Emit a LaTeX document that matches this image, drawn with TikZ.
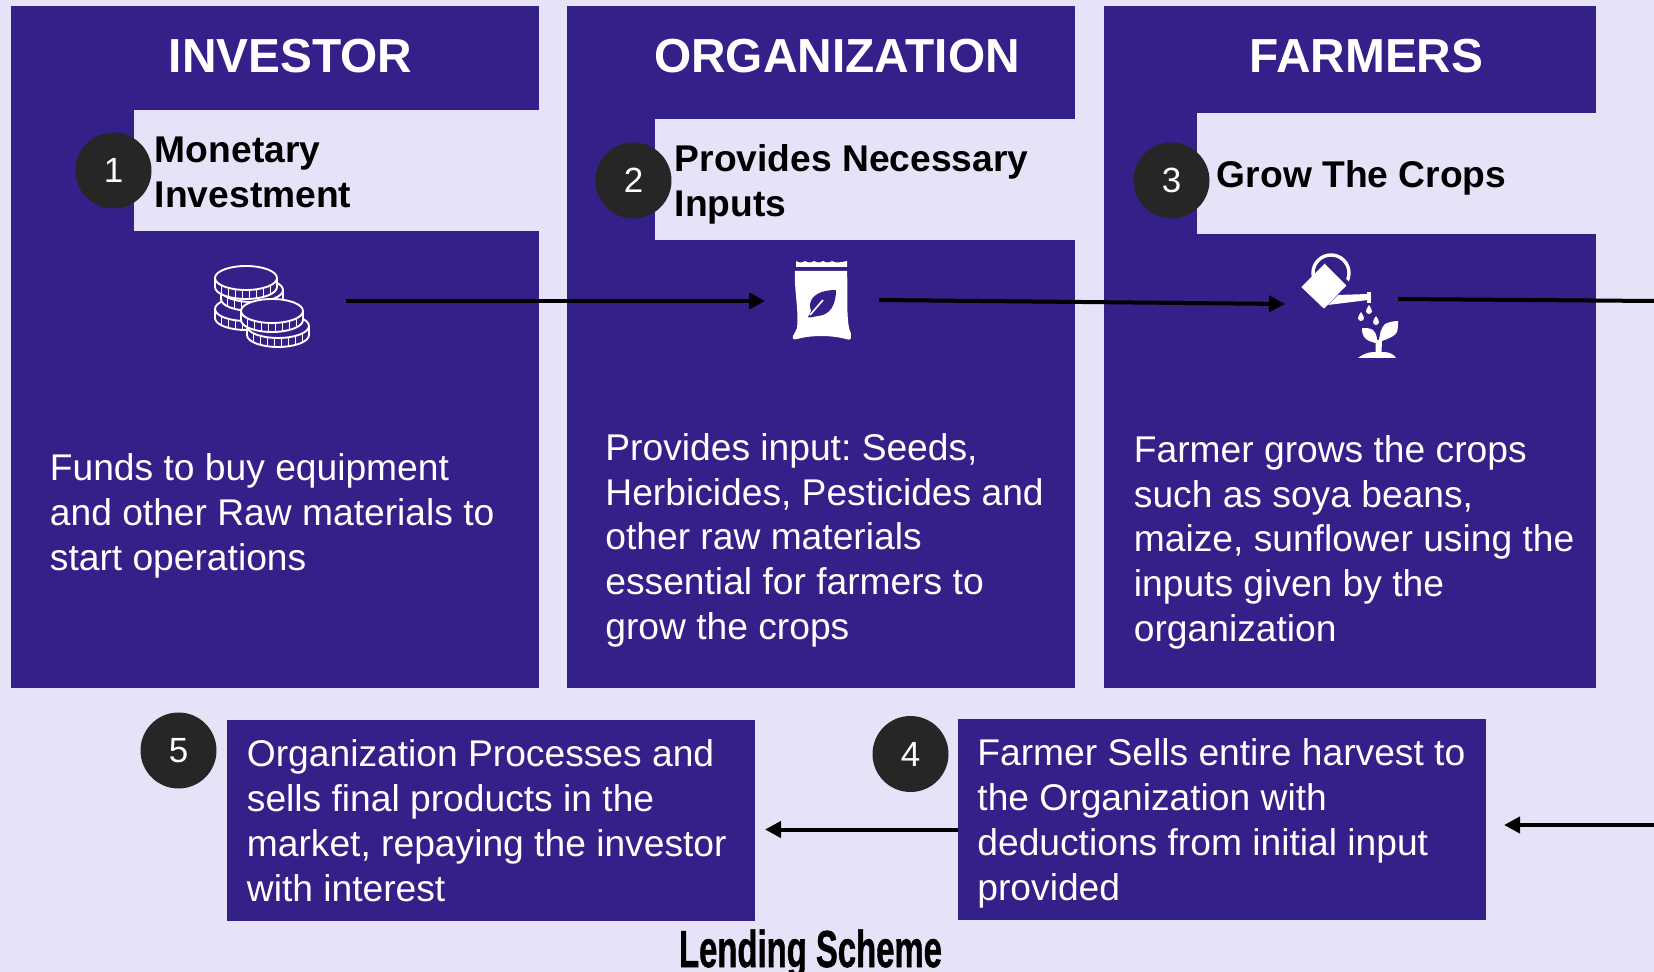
\documentclass[tikz,border=0pt]{standalone}
\usepackage{fontspec}
\setmainfont{Liberation Sans}
\newfontfamily\capfont[FakeBold=1.2]{Liberation Sans Bold}
\usetikzlibrary{arrows.meta}
\definecolor{bgl}{HTML}{E6E3F9}
\definecolor{pur}{HTML}{351F88}
\definecolor{circ}{HTML}{262626}
\newcommand{\fpx}[2]{\fontsize{#1pt}{#2pt}\selectfont}
\frenchspacing
\tikzset{
 panel/.style={fill=pur,draw=none},
 head/.style={fill=bgl,draw=none},
 title/.style={font=\fpx{23.9}{28}\bfseries,text=white,anchor=base,inner sep=0pt},
 headtxt/.style={font=\fpx{18.6}{22.5}\bfseries,text=black,anchor=base west,align=left,inner sep=0pt},
 bodytxt/.style={font=\fpx{18.6}{22.4},text=white,anchor=base west,align=left,inner sep=0pt},
 num/.style={circle,fill=circ,text=white,minimum size=38pt,inner sep=0pt,font=\fpx{17.5}{20}},
 flow/.style={draw=black,line width=2pt,-{Triangle[length=8pt,width=8pt]}},
 flowfree/.style={draw=black,line width=2pt},
 pics/coin/.style={code={
  \path[fill=pur,draw=white,line width=.95pt,line join=round] (-31,0) -- (-31,9) arc[start angle=180,end angle=0,x radius=31,y radius=12] -- (31,0) arc[start angle=0,end angle=-180,x radius=31,y radius=12] -- cycle;
  \draw[white,line width=.95pt] (-31,0) arc[start angle=180,end angle=0,x radius=31,y radius=12];
  \foreach \d in {-24.5,-17.5,...,25}{
    \pgfmathsetmacro{\yy}{12*sqrt(1-(\d/31)*(\d/31))}
    \draw[white,line width=.95pt] (\d,\yy) -- (\d,\yy+9);
  }
 }},
}
\begin{document}
\begin{tikzpicture}[x=0.5pt,y=-0.5pt]
\useasboundingbox (0,0) rectangle (1654,972);
\fill[bgl] (0,0) rectangle (1654,972);
% panels
\path[panel] (11,6) rectangle (539,688);
\path[panel] (567,6) rectangle (1075,688);
\path[panel] (1104,6) rectangle (1596,688);
\path[head] (134,110) rectangle (539,231);
\path[head] (655,119) rectangle (1075,240);
\path[head] (1197,113) rectangle (1596,234);
\path[panel] (227,720) rectangle (755,921);
\path[panel] (958,719) rectangle (1486,920);
% titles
\node[title] (tinv) at (290.5,73) {INVESTOR};
\node[title] (torg) at (837,73) {ORGANIZATION};
\node[title] (tfar) at (1366.5,73) {FARMERS};
% header labels
\node[headtxt] (h1) at (154.5,208) {Monetary\\Investment};
\node[headtxt] (h2) at (674.5,217) {Provides Necessary\\Inputs};
\node[headtxt] (h3) at (1216.5,188) {Grow The Crops};
% number circles
\node[num] (n1) at (113.5,170.5) {1};
\node[num] (n2) at (633.5,180.5) {2};
\node[num] (n3) at (1171.5,180.5) {3};
\node[num] (n5) at (178.5,750.5) {5};
\node[num] (n4) at (910.5,754) {4};
% body
\node[bodytxt] (b1) at (49.5,570.5) {Funds to buy equipment\\and other Raw materials to\\start operations};
\node[bodytxt] (b2) at (605,639.5) {Provides input: Seeds,\\Herbicides, Pesticides and\\other raw materials\\essential for farmers to\\grow the crops};
\node[bodytxt] (b3) at (1133.5,641.5) {Farmer grows the crops\\such as soya beans,\\maize, sunflower using the\\inputs given by the\\organization};
\node[bodytxt] (b5) at (246.5,901) {Organization Processes and\\sells final products in the\\market, repaying the investor\\with interest};
\node[bodytxt] (b4) at (977,900) {Farmer Sells entire harvest to\\the Organization with\\deductions from initial input\\provided};
% lending scheme
\node[font=\fpx{26}{30}\capfont,text=black,anchor=base,inner sep=0pt,xscale=.632,transform shape] (cap) at (810.5,967) {Lending Scheme};
% coins
\pic at (246,309) {coin};
\pic at (252,290) {coin};
\pic at (246,278) {coin};
\pic at (278,326) {coin};
\pic at (272,311) {coin};
% bag
\fill[white] (796,261) .. controls (799,263) and (802,263) .. (805,261) .. controls (808,263) and (811,263) .. (814,261) .. controls (817,263) and (820,263) .. (823,261) .. controls (826,263) and (829,263) .. (832,261) .. controls (835,263) and (838,263) .. (847,261) -- (847,267) -- (796,267) -- cycle;
\fill[white] (795,271) -- (847,271) .. controls (848,290) and (846,310) .. (849,328) .. controls (850,332) and (852,334) .. (851,337) .. controls (851,340) and (849,340) .. (846,339) .. controls (830,335) and (812,335) .. (797,339) .. controls (794,340) and (792,339) .. (793,336) .. controls (794,334) and (796,331) .. (797,328) .. controls (799,310) and (794,290) .. (795,271) -- cycle;
\fill[pur] (836,290) .. controls (836,305) and (830,315) .. (818,316) -- (810,317.5) -- (808,317) -- (811,311) .. controls (807,300) and (815,290) .. (836,290) -- cycle;
\draw[white,line width=.8pt] (823,300) -- (810,315);
% can
\draw[white,line width=1.7pt] (1331,273) circle[radius=18];
\fill[white,line join=round,draw=white,line width=.5pt] (1325,264) -- (1346,285) -- (1324,308) -- (1302,287) -- cycle;
\fill[pur] (1329,262) -- (1351,284) -- (1349,288) -- (1346,285) -- (1325,264) -- cycle;
\fill[white] (1338,295) -- (1368,294) -- (1368,300) -- (1328,305) -- cycle;
\fill[white] (1367,292) rectangle (1371,303);
\foreach \p/\q in {1369/310,1361/317,1376/321}{
 \fill[white] (\p,\q-5) .. controls (\p+1,\q-3) and (\p+3,\q-1) .. (\p+3,\q+1) arc[start angle=0,end angle=180,radius=3] .. controls (\p-3,\q-1) and (\p-1,\q-3) .. (\p,\q-5) -- cycle;
}
\fill[white] (1358,358) .. controls (1366,352) and (1372,352) .. (1375.5,352) -- (1375.5,343) .. controls (1372,342) and (1367,341) .. (1364,337) .. controls (1362,334) and (1362,331) .. (1362,328) .. controls (1366,328) and (1370,328) .. (1373,330) .. controls (1376,333) and (1377,337) .. (1377,340) -- (1379,340) .. controls (1380,333) and (1381,328) .. (1385,324) .. controls (1389,322) and (1394,321) .. (1398,321) .. controls (1398,325) and (1398,329) .. (1397,332) .. controls (1395,336) and (1390,338) .. (1382,341) -- (1381.5,352) .. controls (1386,352) and (1392,352) .. (1396,358) -- cycle;
% arrows
\coordinate (a1s) at (346,301); \coordinate (a1e) at (765,301);
\coordinate (a2s) at (879,300); \coordinate (a2e) at (1285,304);
\coordinate (a3s) at (1398,299); \coordinate (a3e) at (1654,301);
\coordinate (a4s) at (1654,825); \coordinate (a4e) at (1504,825);
\coordinate (a5s) at (958,829.5); \coordinate (a5e) at (765,829.5);
\draw[flow] (a1s) -- (a1e);
\draw[flow] (a2s) -- (a2e);
\draw[flowfree] (a3s) -- (a3e);
\draw[flow] (a4s) -- (a4e);
\draw[flow] (a5s) -- (a5e);
\end{tikzpicture}
\end{document}
